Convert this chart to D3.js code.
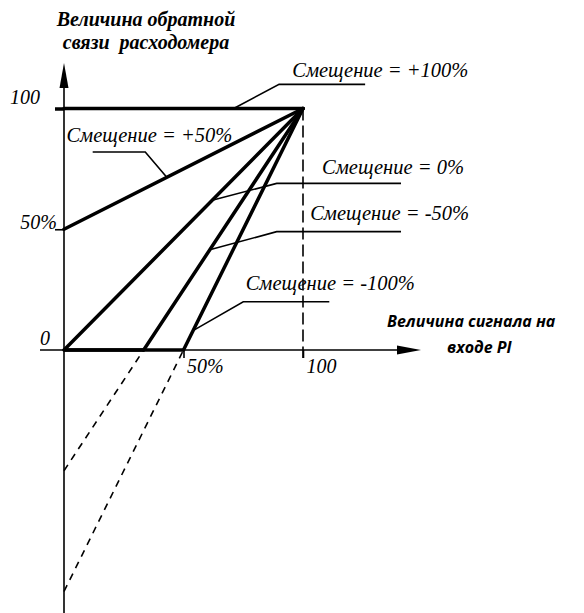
<!DOCTYPE html>
<html>
<head>
<meta charset="utf-8">
<script src="https://cdn.jsdelivr.net/npm/d3@7"></script>
<style>
  html, body { margin: 0; padding: 0; background: #fff; }
  svg { display: block; }
</style>
</head>
<body>
<svg id="chart" width="584" height="613"></svg>
<script>
// Bias curves: feedback = bias + (100 - bias) * signal / 100
const biases = [100, 50, 0, -50, -100];
const biasLabels = ["Смещение = +100%", "Смещение = +50%", "Смещение = 0%", "Смещение = -50%", "Смещение = -100%"];
// where each label sits (signal units / feedback units) and where its leader touches the curve (signal units)
const labelPos = [[95.5, 113], [1, 86], [108, 73], [103, 54], [76, 25]];
const leaderElbow = [[90, 110], [34, 82], [89, 69], [89, 49], [75, 20]];
const leaderEnd = [71, 43, 62, 61, 54];
const leaderStart = [126, 12, 141, 141, 111];

const yTicks = [50, 100];
const yTickLabels = ["50%", "100"];
const xTicks = [50, 100];
const xTickLabels = ["50%", "100"];
const yTitle = ["Величина обратной", "связи  расходомера"];
const xTitle = ["Величина сигнала на", "входе PI"];

const svg = d3.select("#chart");
const x = d3.scaleLinear().domain([0, 100]).range([64, 303]);
const y = d3.scaleLinear().domain([0, 100]).range([350, 108.5]);
const f = (b, s) => b + (100 - b) * s / 100;
const serif = "'Liberation Serif', 'Times New Roman', serif";

// axes with arrow heads
svg.append("line").attr("x1", x(0)).attr("x2", x(0)).attr("y1", 613).attr("y2", 86)
  .attr("stroke", "#000").attr("stroke-width", 1.6);
svg.append("path").attr("d", `M${x(0)},63 L${x(0) - 4.5},88 L${x(0) + 4.5},88 Z`).attr("fill", "#000");
svg.append("line").attr("x1", 40).attr("x2", 400).attr("y1", y(0)).attr("y2", y(0))
  .attr("stroke", "#000").attr("stroke-width", 1.6);
svg.append("path").attr("d", `M421,${y(0)} L397,${y(0) - 4.5} L397,${y(0) + 4.5} Z`).attr("fill", "#000");

// y ticks and labels
const yAxis = d3.axisLeft(y).tickValues(yTicks).tickSize(9).tickFormat((d, i) => yTickLabels[i]);
const gy = svg.append("g").attr("transform", `translate(${x(0)},0)`).call(yAxis);
gy.select(".domain").remove();
gy.selectAll(".tick line").attr("stroke", "#000").attr("stroke-width", d => d === 100 ? 3.5 : 1.6);
gy.selectAll(".tick text")
  .attr("x", d => d === 100 ? -24 : -7).attr("dy", d => d === 100 ? "-0.25em" : "-0.05em")
  .attr("font-family", serif).attr("font-style", "italic").attr("font-size", 20).attr("fill", "#000");

// x ticks and labels
const xAxis = d3.axisBottom(x).tickValues(xTicks).tickSize(8).tickFormat((d, i) => xTickLabels[i]);
const gx = svg.append("g").attr("transform", `translate(0,${y(0)})`).call(xAxis);
gx.select(".domain").remove();
gx.selectAll(".tick line").attr("stroke", "#000").attr("stroke-width", 1.6);
gx.selectAll(".tick text")
  .attr("text-anchor", "start").attr("x", 3).attr("y", 9)
  .attr("font-family", serif).attr("font-style", "italic").attr("font-size", 20).attr("fill", "#000");

// origin label
svg.append("text").attr("x", x(0) - 24).attr("y", y(0) - 5).text("0")
  .attr("font-family", serif).attr("font-style", "italic").attr("font-size", 20);

// vertical dashed guide at full signal
svg.append("line").attr("x1", x(100)).attr("x2", x(100)).attr("y1", y(100)).attr("y2", y(0) + 8)
  .attr("stroke", "#000").attr("stroke-width", 1.6).attr("stroke-dasharray", "12,5");

// curves
biases.forEach(b => {
  const s0 = b >= 0 ? 0 : -100 * b / (100 - b);
  if (b < 0) {
    // part below zero: dashed back to the feedback axis
    svg.append("line").attr("x1", x(0)).attr("y1", y(b)).attr("x2", x(s0)).attr("y2", y(0))
      .attr("stroke", "#000").attr("stroke-width", 1.6).attr("stroke-dasharray", "7,6");
    // clamped at zero up to the intercept
    svg.append("line").attr("x1", x(0)).attr("y1", y(0)).attr("x2", x(s0)).attr("y2", y(0))
      .attr("stroke", "#000").attr("stroke-width", 3.5);
  }
  svg.append("line").attr("x1", x(s0)).attr("y1", y(f(b, s0))).attr("x2", x(100)).attr("y2", y(100))
    .attr("stroke", "#000").attr("stroke-width", 3.5).attr("stroke-linecap", "round");
});

// labels with leaders
biases.forEach((b, i) => {
  const [ex, ey] = leaderElbow[i];
  const s = leaderEnd[i];
  svg.append("polyline")
    .attr("points", [[x(leaderStart[i]), y(ey)], [x(ex), y(ey)], [x(s), y(f(b, s))]].map(p => p.join(",")).join(" "))
    .attr("fill", "none").attr("stroke", "#000").attr("stroke-width", 1.6);
  svg.append("text").attr("x", x(labelPos[i][0])).attr("y", y(labelPos[i][1])).text(biasLabels[i])
    .attr("font-family", serif).attr("font-style", "italic").attr("font-size", 20.5);
});

// axis titles
svg.append("g").selectAll("text").data(yTitle).join("text")
  .attr("x", 146).attr("y", (d, i) => 26 + i * 23).attr("text-anchor", "middle")
  .style("white-space", "pre")
  .attr("font-family", serif).attr("font-style", "italic").attr("font-weight", "bold").attr("font-size", 20)
  .text(d => d);
svg.append("g").selectAll("text").data(xTitle).join("text")
  .attr("x", (d, i) => i === 0 ? 387 : 447).attr("y", (d, i) => 327 + i * 26)
  .attr("font-family", "'Open Sans', sans-serif").attr("font-style", "italic").attr("font-weight", "bold")
  .attr("font-size", 16).text(d => d);
</script>
</body>
</html>
